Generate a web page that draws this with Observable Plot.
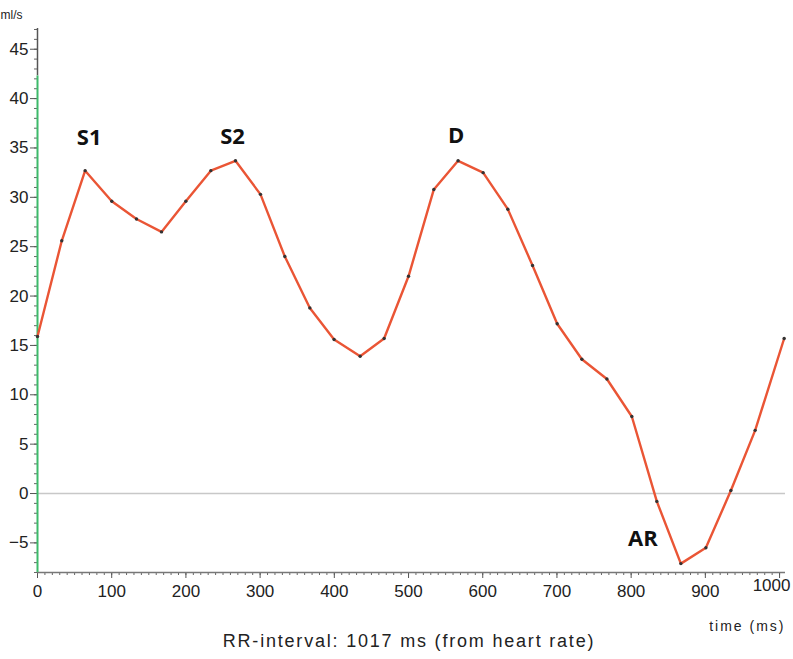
<!DOCTYPE html>
<html>
<head>
<meta charset="utf-8">
<script src="https://cdn.jsdelivr.net/npm/d3@7"></script>
<script src="https://cdn.jsdelivr.net/npm/@observablehq/plot@0.6"></script>
<style>
  html, body { margin: 0; padding: 0; background: #fff; }
  #wrap { position: relative; width: 793px; height: 659px; }
  #chart svg { display: block; }
  #caption {
    position: absolute;
    left: 25px; right: 0; top: 631px;
    font-family: "Liberation Sans", Arial, sans-serif;
    font-size: 18px;
    letter-spacing: 1.8px;
    color: #222;
    text-align: center;
    line-height: 20px;
  }
</style>
</head>
<body>
<div id="wrap">
<div id="chart"></div>
<div id="caption">RR-interval: 1017 ms (from heart rate)</div>
</div>
<script>
// time in ms
const timeMs = [0, 32.7, 64.2, 100.1, 133.4, 167.1, 199.9, 233.6, 266.8, 300.5,
  333.3, 367.0, 399.7, 434.8, 467.1, 500.0, 534.1, 566.8, 600.5, 633.8,
  667.1, 700.3, 733.6, 767.3, 800.9, 834.6, 867.0, 900.7, 934.4, 967.1, 1006.2];
// flow in ml/s
const flow = [15.9, 25.6, 32.7, 29.6, 27.8, 26.5, 29.6, 32.7, 33.7, 30.3,
  24.0, 18.8, 15.6, 13.9, 15.7, 22.0, 30.8, 33.7, 32.5, 28.8,
  23.1, 17.2, 13.6, 11.6, 7.8, -0.8, -7.1, -5.5, 0.3, 6.4, 15.7];
// wave labels and the index of the point they mark
const waveNames = ["S1", "S2", "D", "AR"];
const waveIndex = [2, 8, 17, 26];

const yTicks = [-5, 0, 5, 10, 15, 20, 25, 30, 35, 40, 45];
const xTicks = [0, 100, 200, 300, 400, 500, 600, 700, 800, 900, 1000];
const yMin = -8, yMax = 47.1, xMax = 1008, greenTop = 42.3;

const data = timeMs.map((t, i) => ({t, v: flow[i]}));
const waves = waveNames.map((name, i) => ({name, t: timeMs[waveIndex[i]], v: flow[waveIndex[i]]}));

const font = '"Liberation Sans", Arial, sans-serif';
const waveFont = '"Open Sans", sans-serif';
const waveMark = (name, dx, dy) => Plot.text(waves.filter(d => d.name === name), {
  x: "t", y: "v", text: "name", dx, dy,
  fontFamily: waveFont, fontWeight: 700, fontSize: 22, fill: "#111"
});
const xLabelOpts = {tickSize: 6, tickPadding: 6, fontSize: 17, fill: "#222", stroke: "#555",
  label: null, tickFormat: d => String(d)};

const chart = Plot.plot({
  width: 793,
  height: 659,
  marginLeft: 37,
  marginRight: 8,
  marginTop: 28,
  marginBottom: 87,
  style: {fontFamily: font, background: "#fff"},
  x: {domain: [0, xMax]},
  y: {domain: [yMin, yMax]},
  marks: [
    // zero line
    Plot.ruleY([0], {x1: 0, x2: xMax, stroke: "#c8c8c8", strokeWidth: 1.5}),
    // minor ticks
    Plot.axisY(d3.range(-8, 48, 1), {tickSize: 3, text: null, stroke: "#666", label: null}),
    Plot.axisX(d3.range(0, 1009, 10), {tickSize: 3, text: null, stroke: "#666", label: null}),
    // major ticks
    Plot.axisY(yTicks, {tickSize: 7, tickPadding: 2, fontSize: 17, fill: "#222", stroke: "#555", label: null}),
    Plot.axisX(xTicks.filter(d => d < 1000), xLabelOpts),
    Plot.axisX(xTicks.filter(d => d >= 1000), {...xLabelOpts, tickSize: 0, stroke: "none", dx: -8}),
    Plot.axisX(xTicks.filter(d => d >= 1000), {...xLabelOpts, text: null}),
    // axis lines
    Plot.ruleY([yMin], {stroke: "#777", strokeWidth: 1.5}),
    Plot.ruleX([0], {y1: greenTop, y2: yMax, stroke: "#555", strokeWidth: 1.5}),
    Plot.ruleX([0], {y1: yMin, y2: greenTop, stroke: "#3dba6a", strokeWidth: 2}),
    // series
    Plot.line(data, {x: "t", y: "v", stroke: "#ea5535", strokeWidth: 2.4}),
    Plot.dot(data, {x: "t", y: "v", r: 1.7, fill: "#333", stroke: "none"}),
    // wave labels
    waveMark("S1", 4, -33),
    waveMark("S2", -3, -24),
    waveMark("D", -2, -25),
    waveMark("AR", -38, -25),
    // axis titles
    Plot.text(["ml/s"], {frameAnchor: "top-left", dx: -37, dy: -18, textAnchor: "start",
      fontSize: 12, fill: "#222"}),
    Plot.text(["time (ms)"], {frameAnchor: "bottom-right", dx: 0, dy: 58, textAnchor: "end",
      fontSize: 14, fill: "#222"})
  ]
});
chart.querySelectorAll("text").forEach(t => {
  if (t.textContent === "time (ms)") t.style.letterSpacing = "2px";
});
document.getElementById("chart").appendChild(chart);
</script>
</body>
</html>
